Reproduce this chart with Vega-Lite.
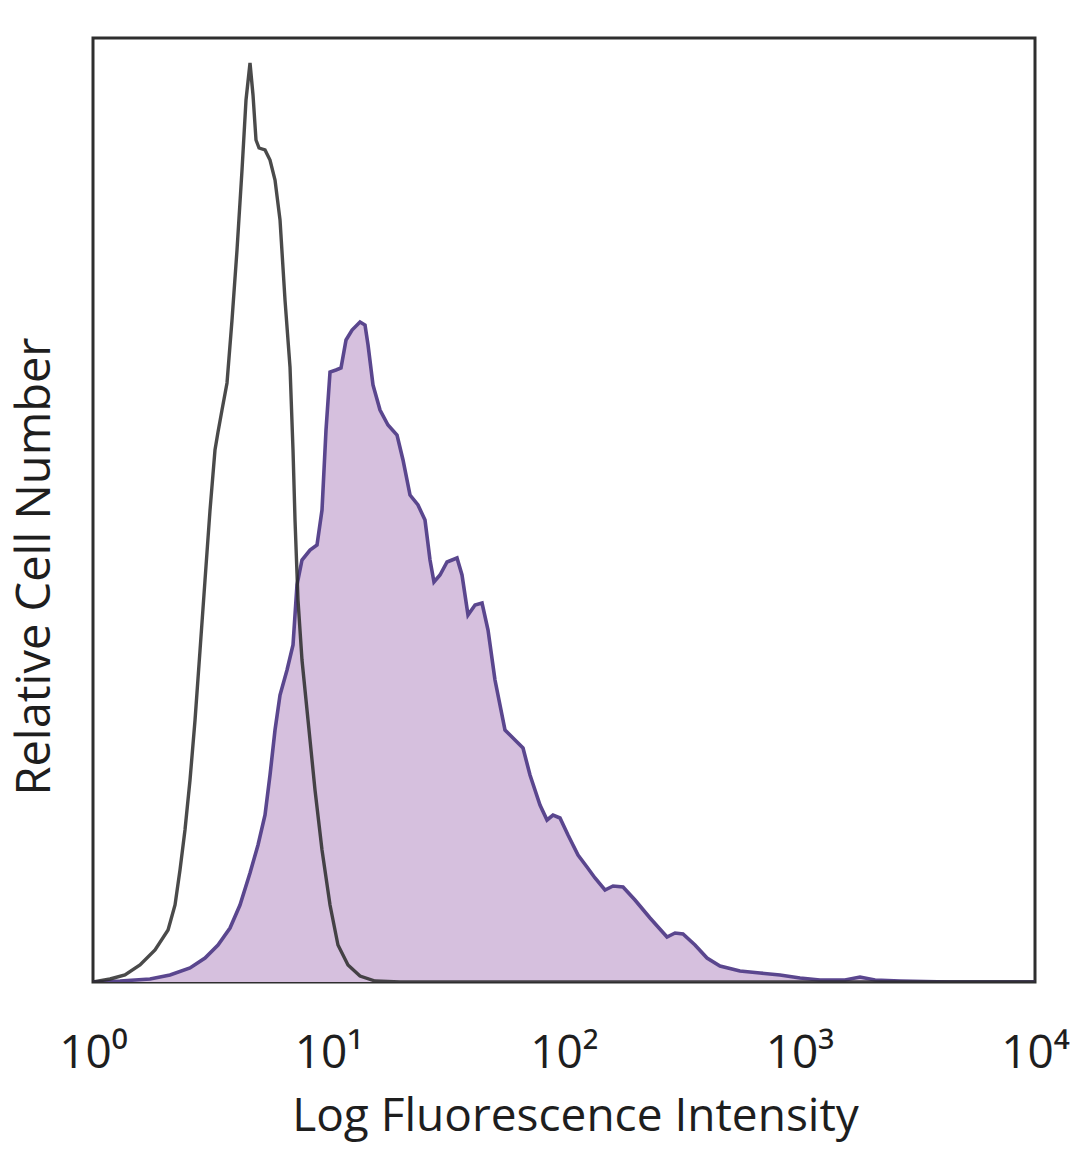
{
  "$schema": "https://vega.github.io/schema/vega-lite/v6.json",
  "width": 942,
  "height": 944,
  "autosize": {"type": "none"},
  "padding": {"left": 93, "top": 38, "right": 45, "bottom": 187},
  "background": "white",
  "config": {
    "view": {"stroke": "#2e2e2e", "strokeWidth": 3},
    "font": "Open Sans"
  },
  "datasets": {
    "isotype": [
      {"x": 1.0, "count": 0}, {"x": 1.181, "count": 3}, {"x": 1.367, "count": 7}, {"x": 1.583, "count": 17},
      {"x": 1.834, "count": 32}, {"x": 2.083, "count": 52}, {"x": 2.23, "count": 77}, {"x": 2.341, "count": 112},
      {"x": 2.458, "count": 152}, {"x": 2.582, "count": 202}, {"x": 2.712, "count": 262}, {"x": 2.848, "count": 332},
      {"x": 2.99, "count": 402}, {"x": 3.14, "count": 472}, {"x": 3.296, "count": 532}, {"x": 3.395, "count": 550},
      {"x": 3.53, "count": 572}, {"x": 3.707, "count": 599}, {"x": 3.893, "count": 662}, {"x": 4.088, "count": 732},
      {"x": 4.293, "count": 812}, {"x": 4.464, "count": 882}, {"x": 4.642, "count": 919}, {"x": 4.78, "count": 887},
      {"x": 4.922, "count": 842}, {"x": 5.07, "count": 834}, {"x": 5.376, "count": 832}, {"x": 5.645, "count": 822},
      {"x": 5.928, "count": 802}, {"x": 6.225, "count": 762}, {"x": 6.536, "count": 682}, {"x": 6.864, "count": 615},
      {"x": 7.068, "count": 532}, {"x": 7.208, "count": 462}, {"x": 7.421, "count": 382}, {"x": 7.717, "count": 322},
      {"x": 8.185, "count": 262}, {"x": 8.764, "count": 192}, {"x": 9.385, "count": 132}, {"x": 10.15, "count": 77},
      {"x": 10.97, "count": 37}, {"x": 12.1, "count": 17}, {"x": 13.61, "count": 6}, {"x": 15.76, "count": 1},
      {"x": 20.12, "count": 0}, {"x": 100, "count": 0}, {"x": 1000, "count": 0}, {"x": 10000, "count": 0}
    ],
    "stained": [
      {"x": 1.0, "count": 0}, {"x": 1.302, "count": 1}, {"x": 1.746, "count": 3}, {"x": 2.123, "count": 7},
      {"x": 2.582, "count": 14}, {"x": 2.99, "count": 24}, {"x": 3.395, "count": 37}, {"x": 3.817, "count": 54},
      {"x": 4.209, "count": 77}, {"x": 4.642, "count": 109}, {"x": 5.02, "count": 137}, {"x": 5.376, "count": 167},
      {"x": 5.645, "count": 207}, {"x": 5.928, "count": 252}, {"x": 6.225, "count": 287}, {"x": 6.666, "count": 312},
      {"x": 7.068, "count": 337}, {"x": 7.349, "count": 397}, {"x": 7.717, "count": 422}, {"x": 8.347, "count": 432},
      {"x": 8.938, "count": 437}, {"x": 9.385, "count": 472}, {"x": 9.759, "count": 552}, {"x": 10.15, "count": 610},
      {"x": 10.76, "count": 612}, {"x": 11.3, "count": 614}, {"x": 11.87, "count": 642}, {"x": 12.59, "count": 652},
      {"x": 13.61, "count": 660}, {"x": 14.29, "count": 657}, {"x": 14.72, "count": 637}, {"x": 15.45, "count": 597},
      {"x": 16.55, "count": 572}, {"x": 17.89, "count": 557}, {"x": 19.54, "count": 547}, {"x": 20.72, "count": 522},
      {"x": 22.19, "count": 487}, {"x": 23.99, "count": 477}, {"x": 25.69, "count": 462}, {"x": 26.98, "count": 422},
      {"x": 28.05, "count": 400}, {"x": 29.75, "count": 407}, {"x": 31.87, "count": 420}, {"x": 35.13, "count": 424},
      {"x": 36.89, "count": 407}, {"x": 39.12, "count": 367}, {"x": 41.9, "count": 377}, {"x": 44.87, "count": 379},
      {"x": 47.58, "count": 352}, {"x": 50.93, "count": 302}, {"x": 56.17, "count": 252}, {"x": 61.93, "count": 242},
      {"x": 66.97, "count": 234}, {"x": 71.72, "count": 207}, {"x": 79.09, "count": 177}, {"x": 84.71, "count": 162},
      {"x": 89.82, "count": 167}, {"x": 96.16, "count": 164}, {"x": 104.0, "count": 147}, {"x": 114.7, "count": 127},
      {"x": 125.2, "count": 115}, {"x": 135.4, "count": 104}, {"x": 149.3, "count": 92}, {"x": 161.5, "count": 96},
      {"x": 178.1, "count": 95}, {"x": 200.2, "count": 82}, {"x": 231.9, "count": 64}, {"x": 273.8, "count": 45},
      {"x": 296.1, "count": 49}, {"x": 320.1, "count": 48}, {"x": 360.0, "count": 37}, {"x": 404.9, "count": 24},
      {"x": 459.6, "count": 16}, {"x": 558.8, "count": 11}, {"x": 679.7, "count": 9}, {"x": 826.4, "count": 7},
      {"x": 1005, "count": 4}, {"x": 1222, "count": 2}, {"x": 1560, "count": 2}, {"x": 1807, "count": 5},
      {"x": 2093, "count": 2}, {"x": 2673, "count": 1}, {"x": 4357, "count": 0}, {"x": 10000, "count": 0}
    ]
  },
  "encoding": {
    "x": {
      "field": "x",
      "type": "quantitative",
      "scale": {"type": "log", "domain": [1, 10000], "nice": false},
      "axis": {
        "title": "Log Fluorescence Intensity",
        "values": [1, 10, 100, 1000, 10000],
        "labelExpr": "'10' + ['⁰','¹','²','³','⁴'][round(log(datum.value)/LN10)]",
        "labelFontSize": 46,
        "labelColor": "#1e1e1e",
        "labelBaseline": "alphabetic",
        "labelPadding": 85,
        "labelFlush": false,
        "labelOverlap": false,
        "ticks": false,
        "tickSize": 0,
        "domain": false,
        "grid": false,
        "titleFontSize": 46,
        "titleFontWeight": "normal",
        "titleColor": "#1e1e1e",
        "titleX": 482,
        "titleY": 148,
        "titleBaseline": "alphabetic",
        "titleAnchor": "middle"
      }
    },
    "y": {
      "field": "count",
      "type": "quantitative",
      "scale": {"domain": [0, 944], "nice": false, "zero": true},
      "axis": {
        "title": "Relative Cell Number",
        "labels": false,
        "ticks": false,
        "domain": false,
        "grid": false,
        "titleFontSize": 47,
        "titleFontWeight": "normal",
        "titleColor": "#1e1e1e",
        "titleAngle": -90,
        "titleX": -58,
        "titleY": 528,
        "titleBaseline": "middle",
        "titleAlign": "center"
      }
    }
  },
  "layer": [
    {
      "data": {"name": "stained"},
      "mark": {
        "type": "area",
        "color": "#d6c0de",
        "opacity": 1,
        "clip": true,
        "line": {"color": "#5a468e", "strokeWidth": 3.6}
      }
    },
    {
      "data": {"name": "isotype"},
      "mark": {"type": "line", "color": "#2a2a2a", "strokeWidth": 3.4, "opacity": 0.85, "clip": true}
    }
  ]
}
